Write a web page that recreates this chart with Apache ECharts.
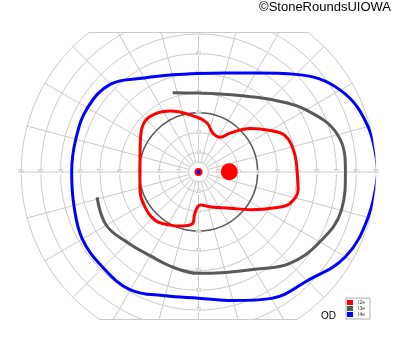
<!DOCTYPE html>
<html>
<head>
<meta charset="utf-8">
<script src="https://cdn.jsdelivr.net/npm/echarts@6/dist/echarts.min.js"></script>
<style>html,body{margin:0;padding:0;background:#fff}#c{width:400px;height:352px}</style>
</head>
<body>
<div id="c"></div>
<script>
// Isopters: [eccentricity (deg), meridian (deg, 0 = right, counter-clockwise)]
const isopterI2e = [[50,0],[49.5,12],[47.5,23],[42,30],[34.3,40],[25.4,51],[20.8,58],[21.1,70],[25.2,80],[27.9,92],[34.1,115],[36.3,124],[37.5,135],[35.5,145],[31.7,159],[29.7,180],[31,197],[32.3,211],[32.9,228],[30.5,242],[29,251],[26.6,263],[20.9,265],[16.8,273],[19,291],[24.3,311],[32.5,324],[42.9,335],[49,341],[51.3,350],[50,360]];
const isopterI3e = [[42.3,108],[40,90],[41,75],[44.6,60],[52,45],[63,30],[73,15],[74.5,0],[75,345],[71,330],[65.5,315],[57,300],[52.7,285],[51.4,270],[50,255],[49,240],[50.7,225],[54,210],[53,194]];
const isopterI4e = [[91,0],[89,15],[83,30],[70,45],[58,60],[52,75],[50,90],[51,105],[55,120],[63,135],[65,150],[64.4,165],[64.3,180],[65.4,195],[68,210],[68.5,225],[69,240],[65,255],[64,270],[67.5,285],[74,300],[78,315],[86,330],[89,345],[91,360]];
const blindSpot = [[15.6,0.5]];
const fixation = [[0,0]];
const seriesNames = ['I2e','I3e','I4e'];
const seriesColors = ['#ff0000','#595959','#0000ff'];
const hTicks = [10,20,30,40,50,60,70,80,90];
const vTicks = [10,20,30,40,50,60,70];

const CX = 198.5, CY = 172, R = 177.5, TOPY = 32.5, BOTY = 319.5;
const halfTop = Math.sqrt(R*R - (CY-TOPY)*(CY-TOPY));
const halfBot = Math.sqrt(R*R - (BOTY-CY)*(BOTY-CY));
const pxPerDeg = R/90;

const labelData = [];
hTicks.forEach(t => { labelData.push([t,0]); labelData.push([t,180]); });
vTicks.forEach(t => { labelData.push([t,90]); labelData.push([t,270]); });

const chart = echarts.init(document.getElementById('c'), null, {renderer:'canvas'});
chart.setOption({
  animation: false,
  backgroundColor: '#fff',
  polar: { center: [CX, CY], radius: R },
  angleAxis: {
    type: 'value', min: 0, max: 360, interval: 15, startAngle: 0, clockwise: false,
    axisLine: { show: false }, axisTick: { show: false }, axisLabel: { show: false },
    splitLine: { show: true, lineStyle: { color: '#cacaca', width: 1 } }
  },
  radiusAxis: {
    type: 'value', min: 0, max: 90, interval: 10,
    axisLine: { show: false }, axisTick: { show: false }, axisLabel: { show: false },
    splitLine: { show: true, lineStyle: { color: '#cacaca', width: 1 } }
  },
  legend: {
    data: seriesNames, orient: 'vertical', left: 346, top: 298,
    itemWidth: 6, itemHeight: 5, itemGap: 1, icon: 'rect',
    padding: [2, 5, 2, 1], borderColor: '#b0b0b0', borderWidth: 1,
    textStyle: { fontSize: 5, color: '#333', fontFamily: 'Liberation Sans' },
    z: 200
  },
  series: [
    { type: 'scatter', coordinateSystem: 'polar', data: fixation, symbolSize: 2*5*pxPerDeg, silent: true,
      itemStyle: { color: '#fff', borderColor: '#cacaca', borderWidth: 1, opacity: 1 }, z: 1 },
    { type: 'scatter', coordinateSystem: 'polar', data: labelData, symbolSize: 1, silent: true,
      itemStyle: { color: 'rgba(0,0,0,0)' }, z: 3,
      label: { show: true, position: 'inside', formatter: p => String(p.data[0]), fontSize: 5, color: '#9a9a9a',
               fontFamily: 'Liberation Sans', backgroundColor: '#fff', padding: 0 } },
    { name: 'I2e', type: 'line', coordinateSystem: 'polar', data: isopterI2e, symbol: 'none', smooth: 0.4,
      lineStyle: { color: seriesColors[0], width: 3 }, itemStyle: { color: seriesColors[0] }, z: 5 },
    { name: 'I3e', type: 'line', coordinateSystem: 'polar', data: isopterI3e, symbol: 'none', smooth: 0.4,
      lineStyle: { color: seriesColors[1], width: 3 }, itemStyle: { color: seriesColors[1] }, z: 4 },
    { name: 'I4e', type: 'line', coordinateSystem: 'polar', data: isopterI4e, symbol: 'none', smooth: 0.4,
      lineStyle: { color: seriesColors[2], width: 3 }, itemStyle: { color: seriesColors[2] }, z: 4 },
    { type: 'scatter', coordinateSystem: 'polar', data: blindSpot, symbolSize: 17, silent: true,
      itemStyle: { color: '#ff0000', opacity: 1 }, z: 6 },
    { type: 'scatter', coordinateSystem: 'polar', data: fixation, symbolSize: 8, silent: true,
      itemStyle: { color: '#ff0000', opacity: 1 }, z: 6 },
    { type: 'scatter', coordinateSystem: 'polar', data: fixation, symbolSize: 4, silent: true,
      itemStyle: { color: '#0000ff', opacity: 1 }, z: 7 }
  ],
  graphic: [
    { type: 'circle', shape: { cx: CX, cy: CY, r: 30*pxPerDeg }, style: { fill: null, stroke: '#5a5a5a', lineWidth: 1.5 }, z: 1, silent: true },
    { type: 'rect', shape: { x: 0, y: 0, width: 400, height: TOPY }, style: { fill: '#fff' }, z: 100, silent: true },
    { type: 'rect', shape: { x: 0, y: BOTY+0.5, width: 400, height: 352-BOTY }, style: { fill: '#fff' }, z: 100, silent: true },
    { type: 'line', shape: { x1: CX-halfTop, y1: TOPY, x2: CX+halfTop, y2: TOPY }, style: { stroke: '#cacaca', lineWidth: 1 }, z: 101, silent: true },
    { type: 'line', shape: { x1: CX-halfBot, y1: BOTY, x2: CX+halfBot, y2: BOTY }, style: { stroke: '#cacaca', lineWidth: 1 }, z: 101, silent: true },
    { type: 'text', right: 9, top: 1, style: { text: '©StoneRoundsUIOWA', font: '13px "Liberation Sans"', fill: '#000' }, z: 102 },
    { type: 'text', left: 321, top: 311, style: { text: 'OD', font: '10px "Liberation Sans"', fill: '#000' }, z: 102 }
  ]
});
</script>
</body>
</html>
